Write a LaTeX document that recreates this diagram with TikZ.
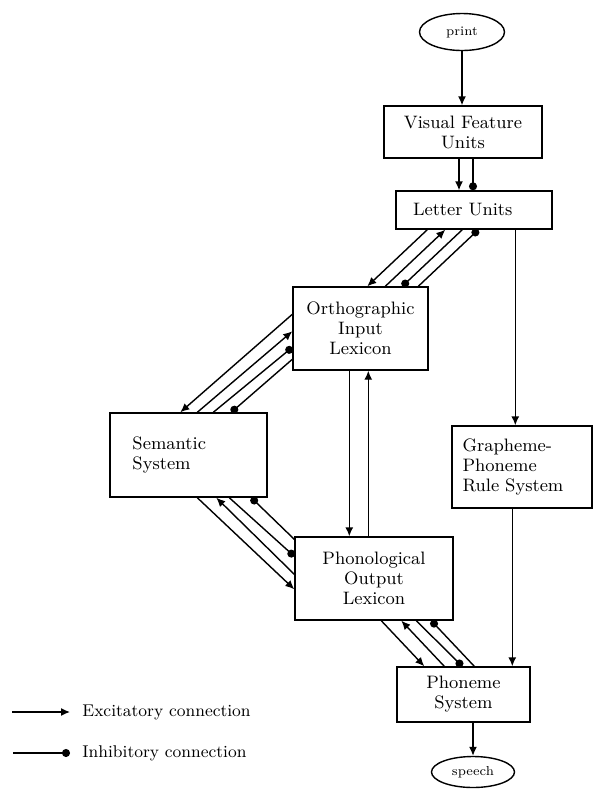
\documentclass[tikz,border=0pt]{standalone}
\usepackage{amsmath, tikz}
\usetikzlibrary{arrows.meta, positioning, shapes.geometric}

\begin{document}
\begin{tikzpicture}[x=0.5pt, y=-0.5pt]
\tikzstyle{main}=[rectangle, draw=black, line width=0.7pt, align=center, inner sep=0pt, font=\fontsize{9}{10}\selectfont]
\tikzstyle{term}=[ellipse, draw=black, line width=0.7pt, inner sep=0pt, font=\fontsize{6.5}{7}\selectfont]
\tikzstyle{legend}=[anchor=west, inner sep=3pt, font=\fontsize{8.5}{10}\selectfont]
\tikzstyle{exc}=[draw, line width=0.7pt, -{Latex[length=4.5pt, width=4pt]}]
\tikzstyle{inh}=[draw, line width=0.7pt, -{Circle[length=4pt]}]
\useasboundingbox (0,0) rectangle (594,789);
\node[term, minimum width=42.5pt, minimum height=18.5pt] (print) at (462,32) {print};
\node[main, minimum width=79pt, minimum height=26pt] (visual) at (463,132) {Visual Feature\\Units};
\node[main, minimum width=78pt, minimum height=19pt, text width=61pt, align=left] (letters) at (474,210) {Letter Units};
\node[main, minimum width=67.5pt, minimum height=41.5pt] (ortho) at (360.5,328.5) {Orthographic\\Input\\Lexicon};
\node[main, minimum width=78.5pt, minimum height=42pt, text width=56pt, align=left] (semantic) at (188.5,455) {Semantic\\System};
\node[main, minimum width=70pt, minimum height=41pt, text width=59.5pt, align=left] (gpc) at (522,467) {Grapheme-\\Phoneme\\Rule System};
\node[main, minimum width=79pt, minimum height=41.5pt] (phon) at (374,578.5) {Phonological\\Output\\Lexicon};
\node[main, minimum width=66.5pt, minimum height=27.5pt] (phoneme) at (463.5,694.5) {Phoneme\\System};
\node[term, minimum width=41.5pt, minimum height=15.5pt] (speech) at (473,772) {speech};
% legend
\coordinate (exstart) at (12,712);
\coordinate (inhstart) at (13,753);
\node[legend] (exlabel) at (76,712) {Excitatory connection};
\node[legend] (inhlabel) at (76,753) {Inhibitory connection};
\path (exstart) edge [exc, shorten >=3pt] (exlabel)
      (inhstart) edge [inh, shorten >=3pt] (inhlabel);
% input side
\path (print) edge [exc] (print |- visual.north)
      ([xshift=-2pt]visual.south) edge [exc] ([xshift=-2pt]visual.south |- letters.north)
      ([xshift=5pt]visual.south) edge [inh] ([xshift=5pt]visual.south |- letters.north)
      ([xshift=60pt]letters.south west) edge [exc] ([xshift=60pt]letters.south west |- gpc.north)
      ([xshift=30.5pt]gpc.south west) edge [exc] ([xshift=30.5pt]gpc.south west |- phoneme.north)
      (speech.north |- phoneme.south) edge [exc] (speech);
% letters <-> orthographic lexicon
\path ([xshift=16pt]letters.south west) edge [exc] ([xshift=37.5pt]ortho.north west)
      ([xshift=46.5pt]ortho.north west) edge [exc] ([xshift=25pt]letters.south west)
      ([xshift=33.5pt]letters.south west) edge [inh] ([xshift=55pt]ortho.north west)
      ([xshift=63pt]ortho.north west) edge [inh] ([xshift=41.5pt]letters.south west);
% orthographic lexicon <-> semantics
\path ([yshift=-14pt]ortho.north west) edge [exc] ([xshift=35.5pt]semantic.north west)
      ([xshift=44pt]semantic.north west) edge [exc] ([yshift=-22.5pt]ortho.north west)
      ([xshift=52pt]semantic.north west) edge [inh] ([yshift=-30.5pt]ortho.north west)
      ([yshift=-36.5pt]ortho.north west) edge [inh] ([xshift=61pt]semantic.north west);
% orthographic <-> phonological lexicon
\path ([xshift=28.5pt]ortho.south west) edge [exc] ([xshift=28.5pt]ortho.south west |- phon.north)
      ([xshift=38pt]ortho.south west |- phon.north) edge [exc] ([xshift=38pt]ortho.south west);
% semantics <-> phonological lexicon
\path ([xshift=44pt]semantic.south west) edge [exc] ([yshift=-26.5pt]phon.north west)
      ([yshift=-19pt]phon.north west) edge [exc] ([xshift=53.5pt]semantic.south west)
      ([xshift=60pt]semantic.south west) edge [inh] ([yshift=-10pt]phon.north west)
      ([yshift=-1.5pt]phon.north west) edge [inh] ([xshift=71pt]semantic.south west);
% phonological lexicon <-> phonemes
\path ([xshift=43.5pt]phon.south west) edge [exc] ([xshift=14pt]phoneme.north west)
      ([xshift=24pt]phoneme.north west) edge [exc] ([xshift=53.5pt]phon.south west)
      ([xshift=61pt]phon.south west) edge [inh] ([xshift=33pt]phoneme.north west)
      ([xshift=39pt]phoneme.north west) edge [inh] ([xshift=68.5pt]phon.south west);
\end{tikzpicture}
\end{document}
